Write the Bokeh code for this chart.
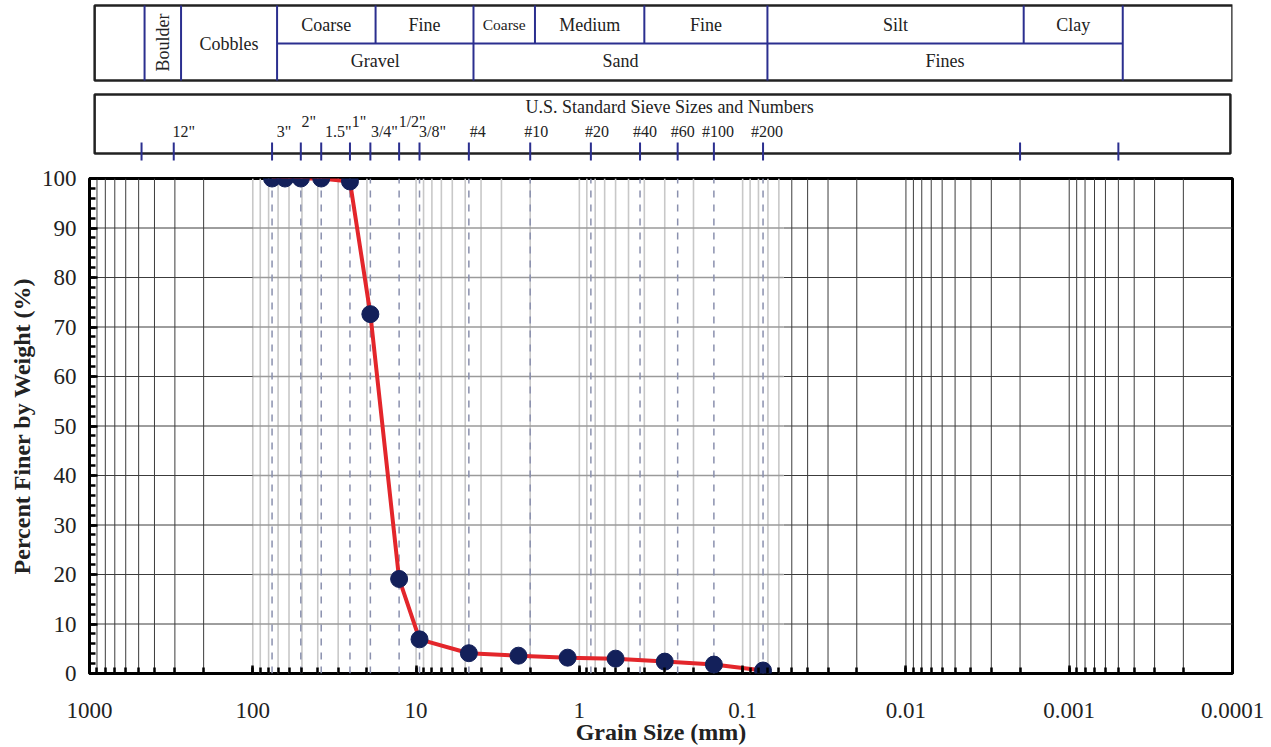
import numpy as np
from bokeh.plotting import figure
from bokeh.layouts import column
from bokeh.models import Range1d, FixedTicker, SingleIntervalTicker, CustomJSTickFormatter, ColumnDataSource
from bokeh.core.properties import value
from bokeh.embed import file_html
from bokeh.resources import INLINE

# ---------------- data ----------------
grain_size_mm = [76.2, 63.5, 50.8, 38.1, 25.4, 19.05, 12.7, 9.525, 4.75, 2.36, 1.18, 0.60, 0.30, 0.15, 0.075]
percent_finer = [100, 100, 100, 100, 99.4, 72.6, 19.1, 6.9, 4.1, 3.6, 3.2, 3.0, 2.4, 1.8, 0.6]

x_tick_values = [1000, 100, 10, 1, 0.1, 0.01, 0.001, 0.0001]
x_tick_labels = ["1000", "100", "10", "1", "0.1", "0.01", "0.001", "0.0001"]

sieve_labels = ["", '12"', '3"', '2"', '1.5"', '1"', '3/4"', '1/2"', '3/8"', "#4", "#10", "#20",
                "#40", "#60", "#100", "#200", "", ""]
sieve_mm = [480, 304.8, 76.2, 50.8, 38.1, 25.4, 19.05, 12.7, 9.525, 4.75, 2.0, 0.85, 0.425,
            0.25, 0.15, 0.075, 0.002, 0.0005]
dashed_sieve_mm = [76.2, 50.8, 38.1, 25.4, 19.05, 12.7, 9.525, 4.75, 2.0, 0.85, 0.425, 0.25, 0.15, 0.075]

# classification boundaries (mm)
full_bounds_mm = [460, 275, 71, 4.45, 0.0705, 0.00047]
upper_bounds_mm = [17.7, 1.87, 0.40, 0.0019]
upper_names = ["Coarse", "Fine", "Coarse", "Medium", "Fine", "Silt", "Clay"]
upper_edges = [(71, 17.7), (17.7, 4.45), (4.45, 1.87), (1.87, 0.40), (0.40, 0.0705), (0.0705, 0.0019), (0.0019, 0.00047)]
lower_names = ["Gravel", "Sand", "Fines"]
lower_edges = [(71, 4.45), (4.45, 0.0705), (0.0705, 0.00047)]

# ---------------- styles ----------------
FONT = "Liberation Serif"
NAVY = "#2b2f8f"
TXT = "#222222"
W = 1268
BL, BR = 89, 36
gray_lo, gray_hi = 0.056, 100.0
raised = {'2"', '1"', '1/2"'}
label_dx = [0, 10, 12, 8, 17, 9, 14, 13, 13, 9, 6, 6, 5, 5, 4, 4, 0, 0]

x_range = Range1d(1000, 1e-4)

# ---------------- header figure ----------------
HH = 163
h = figure(width=W, height=HH, x_axis_type="log", x_range=x_range, y_range=Range1d(HH, 0),
           output_backend="svg", toolbar_location=None, x_axis_location=None, y_axis_location=None,
           min_border_left=BL, min_border_right=BR, min_border_top=0, min_border_bottom=0)
h.grid.visible = False
h.outline_line_color = None

# box 1 (classification)
h.quad(left=[930], right=[1.0e-4], top=[5], bottom=[80], fill_color=None, line_color=TXT, line_width=2.5)
h.segment(x0=full_bounds_mm, x1=full_bounds_mm, y0=[5]*len(full_bounds_mm), y1=[80]*len(full_bounds_mm),
          line_color=NAVY, line_width=2)
h.segment(x0=upper_bounds_mm, x1=upper_bounds_mm, y0=[5]*len(upper_bounds_mm), y1=[43]*len(upper_bounds_mm),
          line_color=NAVY, line_width=2)
h.segment(x0=[71], x1=[0.00047], y0=[43], y1=[43], line_color=NAVY, line_width=2)

def gmean(a, b):
    return float(np.sqrt(a * b))

h.text(x=[gmean(a, b) for a, b in upper_edges], y=[24]*len(upper_edges), text=upper_names,
       text_font=value(FONT), text_font_size=["18px", "18px", "15.5px", "18px", "18px", "18px", "18px"],
       text_align="center", text_baseline="middle", text_color=TXT)
h.text(x=[gmean(a, b) for a, b in lower_edges], y=[60]*3, text=lower_names,
       text_font=value(FONT), text_font_size="18px", text_align="center", text_baseline="middle",
       text_color=TXT)
h.text(x=[gmean(275, 71)], y=[43], text=["Cobbles"], text_font=value(FONT), text_font_size="18px",
       text_align="center", text_baseline="middle", text_color=TXT)
h.text(x=[gmean(460, 275)], y=[42], text=["Boulder"], text_font=value(FONT), text_font_size="18px",
       text_align="center", text_baseline="middle", angle=np.pi / 2, text_color=TXT)

# box 2 (sieves)
h.quad(left=[930], right=[1.03e-4], top=[94], bottom=[153], fill_color=None, line_color=TXT, line_width=2.5)
h.text(x=[0.28], y=[106], text=["U.S. Standard Sieve Sizes and Numbers"], text_font=value(FONT),
       text_font_size="18px", text_align="center", text_baseline="middle", text_color=TXT)
h.segment(x0=sieve_mm, x1=sieve_mm, y0=[142]*len(sieve_mm), y1=[160]*len(sieve_mm), line_color=NAVY, line_width=2)
lab_src = ColumnDataSource(dict(
    x=sieve_mm, text=sieve_labels,
    y=[121 if s in raised else 131 for s in sieve_labels],
    dx=label_dx))
h.text(x="x", y="y", text="text", x_offset="dx", source=lab_src, text_font=value(FONT), text_font_size="16px",
       text_align="center", text_baseline="middle", text_color=TXT)

# ---------------- main figure ----------------
p = figure(width=W, height=584, x_axis_type="log", x_range=x_range, y_range=Range1d(0, 100),
           output_backend="svg", toolbar_location=None,
           min_border_left=BL, min_border_right=BR, min_border_top=15, min_border_bottom=10)
p.grid.visible = False
p.outline_line_color = "black"
p.outline_line_width = 3

minor_vals = [m * 10.0 ** k for k in range(-4, 3) for m in range(1, 10)]
black_v = [v for v in minor_vals if (v > 150 or v < 0.055) and v > 1.01e-4]
gray_v = [v for v in minor_vals if gray_lo < v <= gray_hi * 1.001]
p.segment(x0=black_v, x1=black_v, y0=[0]*len(black_v), y1=[100]*len(black_v), line_color="#3c3c3c", line_width=1)
p.segment(x0=gray_v, x1=gray_v, y0=[0]*len(gray_v), y1=[100]*len(gray_v), line_color="#c8c8c8", line_width=1.6)
hy = list(range(10, 100, 10))
p.segment(x0=[1000]*len(hy), x1=[gray_hi]*len(hy), y0=hy, y1=hy, line_color="#3c3c3c", line_width=1)
p.segment(x0=[gray_lo]*len(hy), x1=[1e-4]*len(hy), y0=hy, y1=hy, line_color="#3c3c3c", line_width=1)
p.segment(x0=[gray_hi]*len(hy), x1=[gray_lo]*len(hy), y0=hy, y1=hy, line_color="#9a9a9a", line_width=1.5)
p.segment(x0=dashed_sieve_mm, x1=dashed_sieve_mm, y0=[0]*len(dashed_sieve_mm), y1=[100]*len(dashed_sieve_mm),
          line_color="#8a90ae", line_width=1.5, line_dash="7 7")

p.line(grain_size_mm, percent_finer, line_color="#e3262b", line_width=4)
p.scatter(grain_size_mm, percent_finer, size=17, fill_color="#13205a", line_color="#13205a")

# axes
xa = p.xaxis[0]
xa.ticker = FixedTicker(ticks=x_tick_values, minor_ticks=minor_vals)
xa.formatter = CustomJSTickFormatter(args=dict(vals=x_tick_values, labels=x_tick_labels), code="""
for (let i = 0; i < vals.length; i++) {
  if (Math.abs(Math.log10(tick) - Math.log10(vals[i])) < 1e-6) { return labels[i]; }
}
return "";
""")
xa.axis_label = "Grain Size (mm)"
xa.major_label_standoff = 29
xa.axis_label_standoff = -2

ya = p.yaxis[0]
ya.ticker = SingleIntervalTicker(interval=10, num_minor_ticks=5)
ya.axis_label = "Percent Finer by Weight (%)"
ya.major_label_standoff = 13
ya.axis_label_standoff = 4

for ax in (xa, ya):
    ax.axis_line_color = None
    ax.major_tick_in = 8
    ax.major_tick_out = 0
    ax.minor_tick_in = 6
    ax.minor_tick_out = 0
    ax.major_tick_line_width = 2.5
    ax.minor_tick_line_width = 2.5
    ax.major_tick_line_color = "black"
    ax.minor_tick_line_color = "black"
    ax.major_label_text_font = FONT
    ax.major_label_text_font_size = "23px"
    ax.major_label_text_color = TXT
    ax.axis_label_text_font = FONT
    ax.axis_label_text_font_size = "24px"
    ax.axis_label_text_font_style = "bold"
    ax.axis_label_text_color = TXT

layout = column(h, p)
open("out.html", "w").write(file_html(layout, INLINE))
